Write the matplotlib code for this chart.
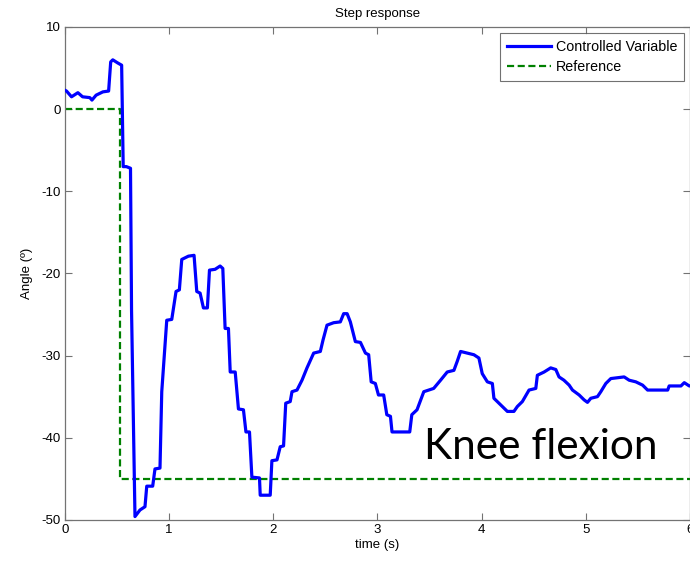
import numpy as np
import matplotlib
matplotlib.use('Agg')
import matplotlib.pyplot as plt

# controlled variable
t_cv = [0.0, 0.016, 0.064, 0.125, 0.17, 0.24, 0.26, 0.30, 0.365, 0.42, 0.44, 0.46,
        0.51, 0.545, 0.56, 0.59, 0.63, 0.64, 0.673, 0.721, 0.769, 0.786, 0.843,
        0.865, 0.913, 0.93, 0.978, 1.026, 1.067, 1.099, 1.122, 1.186, 1.24, 1.266,
        1.298, 1.33, 1.368, 1.388, 1.442, 1.49, 1.516, 1.538, 1.57, 1.587, 1.635,
        1.666, 1.714, 1.738, 1.772, 1.795, 1.868, 1.875, 1.971, 1.987, 2.036, 2.067,
        2.099, 2.12, 2.163, 2.18, 2.228, 2.276, 2.324, 2.388, 2.452, 2.478, 2.516,
        2.58, 2.644, 2.676, 2.709, 2.74, 2.788, 2.837, 2.885, 2.916, 2.94, 2.98,
        3.01, 3.06, 3.09, 3.125, 3.14, 3.31, 3.33, 3.38, 3.445, 3.54, 3.606, 3.67,
        3.734, 3.766, 3.798, 3.862, 3.926, 3.974, 4.006, 4.055, 4.103, 4.118,
        4.183, 4.247, 4.31, 4.343, 4.391, 4.455, 4.52, 4.535, 4.6, 4.663, 4.712,
        4.743, 4.79, 4.84, 4.872, 4.936, 4.984, 5.016, 5.048, 5.112, 5.144, 5.192,
        5.24, 5.368, 5.416, 5.48, 5.545, 5.593, 5.786, 5.80, 5.913, 5.945, 5.993, 6.0]
y_cv = [2.3, 2.2, 1.5, 2.0, 1.5, 1.4, 1.1, 1.7, 2.1, 2.2, 5.75, 6.0,
        5.6, 5.35, -7.0, -7.0, -7.2, -24.5, -49.6, -48.8, -48.4, -45.9, -45.9,
        -43.8, -43.7, -34.4, -25.7, -25.6, -22.2, -22.0, -18.3, -17.9, -17.8, -22.2,
        -22.4, -24.2, -24.2, -19.6, -19.5, -19.1, -19.4, -26.7, -26.7, -32.0, -32.0,
        -36.5, -36.6, -39.3, -39.3, -44.8, -44.9, -47.0, -47.0, -42.8, -42.7, -41.1,
        -41.0, -35.8, -35.6, -34.4, -34.2, -33.0, -31.5, -29.7, -29.5, -28.1, -26.3,
        -26.0, -25.9, -24.9, -24.9, -25.9, -28.3, -28.4, -29.7, -29.9, -33.2, -33.4,
        -34.8, -34.8, -37.2, -37.4, -39.3, -39.3, -37.2, -36.6, -34.4, -34.0, -33.0, -32.0,
        -31.8, -30.7, -29.5, -29.7, -29.9, -30.3, -32.2, -33.2, -33.4, -35.2,
        -36.0, -36.8, -36.8, -36.2, -35.6, -34.2, -34.0, -32.4, -32.0, -31.5, -31.7,
        -32.6, -33.0, -33.6, -34.2, -34.8, -35.4, -35.7, -35.2, -35.0, -34.4, -33.4,
        -32.8, -32.6, -33.0, -33.2, -33.6, -34.2, -34.2, -33.7, -33.7, -33.3, -33.7, -33.7]

# reference step
t_ref = [0.0, 0.53, 0.53, 6.0]
y_ref = [0.0, 0.0, -45.0, -45.0]

plt.rcParams['font.family'] = ['Liberation Sans', 'DejaVu Sans']
plt.rcParams['axes.unicode_minus'] = False

fig = plt.figure(figsize=(6.9, 5.62), dpi=100)
ax = fig.add_axes([0.094, 0.075, 0.906, 0.877])

ax.plot(t_cv, y_cv, color='#0000ff', lw=2.3, label='Controlled Variable', zorder=3)
ax.plot(t_ref, y_ref, color='#008000', lw=1.6, ls=(0, (3.2, 1.6)), label='Reference', zorder=2)

ax.set_xlim(0, 6)
ax.set_ylim(-50, 10)
ax.set_xticks(range(0, 7))
ax.set_yticks(range(-50, 11, 10))
ax.tick_params(direction='in', top=True, right=True, length=5, width=0.8,
               color='0.45', labelsize=9.5, pad=3)
for s in ax.spines.values():
    s.set_color('0.45')
    s.set_linewidth(0.9)

ax.set_title('Step response', fontsize=9.5, pad=7)
ax.set_xlabel('time (s)', fontsize=9.5, labelpad=2)
ax.set_ylabel('Angle (º)', fontsize=9.5, labelpad=6)

leg = ax.legend(loc='upper right', fontsize=10.3, frameon=True, fancybox=False,
                borderaxespad=0.4, handlelength=3.1, handletextpad=0.3,
                borderpad=0.5, labelspacing=0.45)
leg.get_frame().set_edgecolor('0.3')
leg.get_frame().set_linewidth(0.8)

ax.text(3.45, -42.6, 'Knee flexion', fontsize=30.5, family=['Lato', 'DejaVu Sans'],
        va='baseline', ha='left', zorder=4)

fig.savefig('out.png', dpi=100)
